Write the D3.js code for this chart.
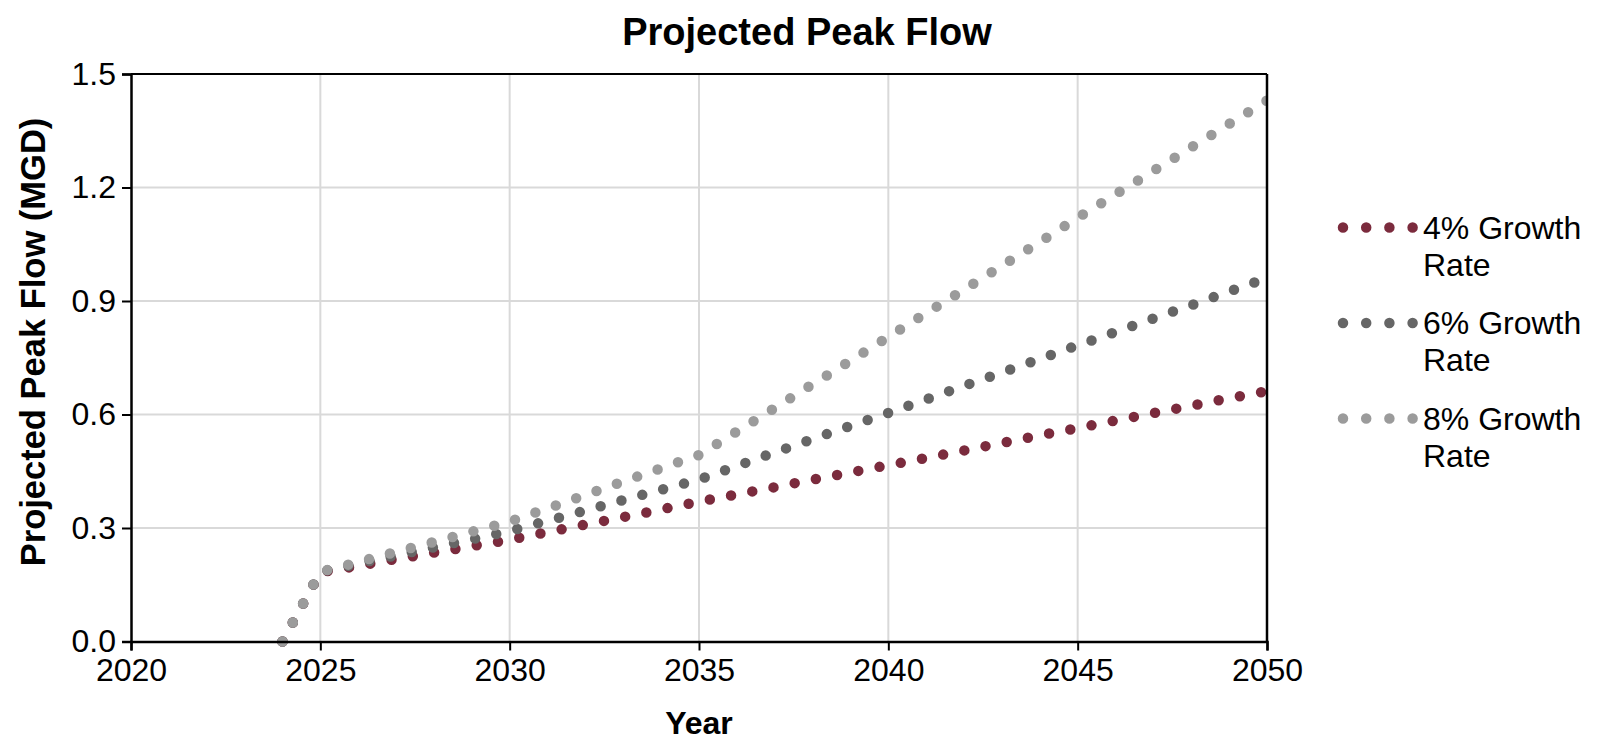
<!DOCTYPE html>
<html>
<head>
<meta charset="utf-8">
<script src="https://cdn.jsdelivr.net/npm/d3@7"></script>
<style>
  body { margin: 0; background: #fff; }
  text { font-family: "Liberation Sans", Arial, sans-serif; fill: #000; }
</style>
</head>
<body>
<div id="chart"></div>
<script>
var years = [2024, 2025, 2026, 2027, 2028, 2029, 2030, 2031, 2032, 2033, 2034, 2035, 2036, 2037,
             2038, 2039, 2040, 2041, 2042, 2043, 2044, 2045, 2046, 2047, 2048, 2049, 2050];
var growth4 = [0, 0.183, 0.200, 0.218, 0.235, 0.252, 0.269, 0.289, 0.309, 0.329, 0.349, 0.370, 0.389, 0.408,
               0.428, 0.447, 0.466, 0.485, 0.505, 0.525, 0.545, 0.564, 0.584, 0.604, 0.623, 0.643, 0.662];
var growth6 = [0, 0.184, 0.206, 0.228, 0.249, 0.270, 0.292, 0.319, 0.346, 0.374, 0.401, 0.428, 0.464, 0.500,
               0.535, 0.570, 0.604, 0.640, 0.676, 0.711, 0.747, 0.783, 0.818, 0.854, 0.889, 0.925, 0.961];
var growth8 = [0, 0.184, 0.210, 0.237, 0.263, 0.290, 0.317, 0.352, 0.387, 0.423, 0.458, 0.493, 0.555, 0.617,
               0.680, 0.742, 0.805, 0.868, 0.930, 0.993, 1.056, 1.120, 1.182, 1.244, 1.306, 1.368, 1.430];
var series_names = ["4% Growth Rate", "6% Growth Rate", "8% Growth Rate"];
var series_colors = ["#7b2b3d", "#666666", "#9b9b9b"];
var x_ticks = [2020, 2025, 2030, 2035, 2040, 2045, 2050];
var y_ticks = [0, 0.3, 0.6, 0.9, 1.2, 1.5];

var width = 1620, height = 740;
var plot_left = 131, plot_top = 74, plot_right = 1267, plot_bottom = 641.5;

var svg = d3.select("#chart").append("svg")
    .attr("width", width)
    .attr("height", height);

var x = d3.scaleLinear().domain([2020, 2050]).range([plot_left, plot_right]);
var y = d3.scaleLinear().domain([0, 1.5]).range([plot_bottom, plot_top]);

// grid
svg.append("g")
    .selectAll("line")
    .data(x_ticks.slice(1, -1))
    .enter().append("line")
      .attr("x1", d => x(d)).attr("x2", d => x(d))
      .attr("y1", plot_top).attr("y2", plot_bottom)
      .attr("stroke", "#d9d9d9")
      .attr("stroke-width", 2);

svg.append("g")
    .selectAll("line")
    .data(y_ticks.slice(1, -1))
    .enter().append("line")
      .attr("x1", plot_left).attr("x2", plot_right)
      .attr("y1", d => y(d)).attr("y2", d => y(d))
      .attr("stroke", "#d9d9d9")
      .attr("stroke-width", 2);

// series
svg.append("defs").append("clipPath")
    .attr("id", "plot_clip")
    .append("rect")
      .attr("x", plot_left).attr("y", plot_top - 6)
      .attr("width", plot_right - plot_left).attr("height", plot_bottom - plot_top + 12);

var line = d3.line()
    .x(d => x(d[0]))
    .y(d => y(d[1]));

var all_series = [growth4, growth6, growth8];
svg.append("g")
    .attr("clip-path", "url(#plot_clip)")
    .selectAll("path")
    .data(all_series)
    .enter().append("path")
      .attr("d", function(vals) { return line(years.map((yr, i) => [yr, vals[i]])); })
      .attr("fill", "none")
      .attr("stroke", (d, i) => series_colors[i])
      .attr("stroke-width", 10.5)
      .attr("stroke-linecap", "round")
      .attr("stroke-dasharray", "0 21.6");

// axes
var x_axis = svg.append("g")
    .attr("transform", "translate(0," + plot_bottom + ")")
    .call(d3.axisBottom(x).tickValues(x_ticks).tickFormat(d3.format("d")).tickSize(9).tickPadding(8));
var y_axis = svg.append("g")
    .attr("transform", "translate(" + plot_left + ",0)")
    .call(d3.axisLeft(y).tickValues(y_ticks).tickFormat(d3.format(".1f")).tickSize(9).tickPadding(6));

[x_axis, y_axis].forEach(function(ax) {
    ax.select(".domain").attr("stroke", "#000").attr("stroke-width", 2.5);
    ax.selectAll(".tick line").attr("stroke", "#000").attr("stroke-width", 2);
    ax.selectAll(".tick text")
        .attr("fill", "#000")
        .style("font-family", "'Liberation Sans', Arial, sans-serif")
        .style("font-size", "32px");
});

// top and right border
svg.append("line")
    .attr("x1", plot_left).attr("x2", plot_right).attr("y1", plot_top).attr("y2", plot_top)
    .attr("stroke", "#000").attr("stroke-width", 2);
svg.append("line")
    .attr("x1", plot_right).attr("x2", plot_right).attr("y1", plot_top).attr("y2", plot_bottom)
    .attr("stroke", "#000").attr("stroke-width", 2.5);

// titles
svg.append("text")
    .attr("x", 807).attr("y", 45)
    .attr("text-anchor", "middle")
    .style("font-size", "38px")
    .style("font-weight", "bold")
    .text("Projected Peak Flow");

svg.append("text")
    .attr("x", x(2035)).attr("y", 734)
    .attr("text-anchor", "middle")
    .style("font-size", "32px")
    .style("font-weight", "bold")
    .text("Year");

svg.append("text")
    .attr("transform", "translate(45,342) rotate(-90)")
    .attr("text-anchor", "middle")
    .style("font-size", "34.5px")
    .style("font-weight", "bold")
    .text("Projected Peak Flow (MGD)");

// legend
var legend = svg.append("g")
    .selectAll("g")
    .data(series_names)
    .enter().append("g")
      .attr("transform", (d, i) => "translate(1343," + (227.5 + i * 95.5) + ")");

legend.append("line")
    .attr("x1", 0).attr("x2", 70)
    .attr("y1", 0).attr("y2", 0)
    .attr("stroke", (d, i) => series_colors[i])
    .attr("stroke-width", 10.5)
    .attr("stroke-linecap", "round")
    .attr("stroke-dasharray", "0 23.2");

var legend_text = legend.append("text")
    .attr("x", 80)
    .attr("y", 11)
    .style("font-size", "32px");
legend_text.append("tspan")
    .attr("x", 80)
    .text(d => d.split(" ").slice(0, 2).join(" "));
legend_text.append("tspan")
    .attr("x", 80)
    .attr("dy", 37)
    .text(d => d.split(" ")[2]);
</script>
</body>
</html>
